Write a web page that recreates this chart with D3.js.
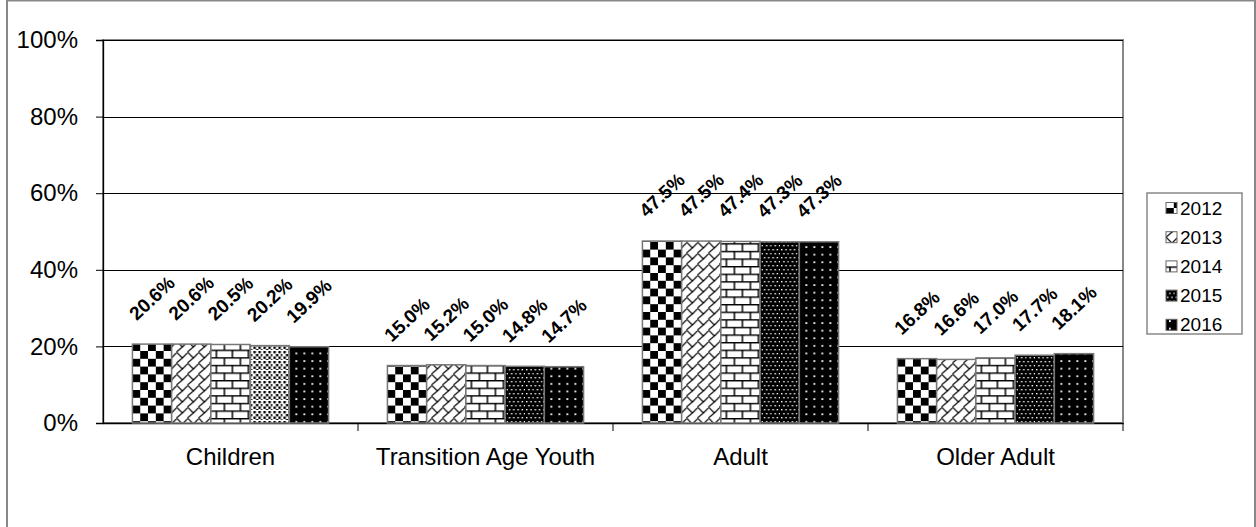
<!DOCTYPE html>
<html>
<head>
<meta charset="utf-8">
<script src="https://cdn.jsdelivr.net/npm/d3@7"></script>
<style>
  html, body { margin: 0; padding: 0; background: #fff; }
  svg { display: block; font-family: "Liberation Sans", Arial, sans-serif; }
</style>
</head>
<body>
<svg id="chart" width="1256" height="527"></svg>
<script>
// ---- data ----
const categories = ["Children", "Transition Age Youth", "Adult", "Older Adult"];
const years = ["2012", "2013", "2014", "2015", "2016"];
const v2012 = [20.6, 15.0, 47.5, 16.8];
const v2013 = [20.6, 15.2, 47.5, 16.6];
const v2014 = [20.5, 15.0, 47.4, 17.0];
const v2015 = [20.2, 14.8, 47.3, 17.7];
const v2016 = [19.9, 14.7, 47.3, 18.1];
const yTicks = [0, 20, 40, 60, 80, 100];

const seriesValues = [v2012, v2013, v2014, v2015, v2016];
const series = years.map((y, i) => ({ year: y, values: seriesValues[i] }));

const svg = d3.select("#chart");
const plot = { left: 103, right: 1123, top: 40, bottom: 423 };
const FONT = "Liberation Sans, Arial, sans-serif";

// ---- patterns ----
const defs = svg.append("defs");
function pat(id, w, h) {
  return defs.append("pattern").attr("id", id).attr("patternUnits", "userSpaceOnUse")
    .attr("width", w).attr("height", h);
}
// 2012 checkerboard
{
  const p = pat("p2012", 15.6, 15.6);
  p.append("rect").attr("width", 15.6).attr("height", 15.6).attr("fill", "#fff");
  p.append("rect").attr("x", 0).attr("y", 0).attr("width", 7.8).attr("height", 7.8).attr("fill", "#000");
  p.append("rect").attr("x", 7.8).attr("y", 7.8).attr("width", 7.8).attr("height", 7.8).attr("fill", "#000");
}
// 2013 zigzag / wave
{
  const p = pat("p2013", 11, 11);
  p.append("rect").attr("width", 11).attr("height", 11).attr("fill", "#fff");
  p.append("path").attr("d", "M0,0 L6,6 L0,11 M6,6 L11,1").attr("stroke", "#000").attr("stroke-width", 1.2).attr("fill", "none");
}
// 2014 bricks
{
  const p = pat("p2014", 16, 15.2);
  p.append("rect").attr("width", 16).attr("height", 15.2).attr("fill", "#fff");
  p.append("path").attr("d", "M0,0.7 H16 M0,8.3 H16 M4,0.7 V8.3 M12,8.3 V15.2")
    .attr("stroke", "#000").attr("stroke-width", 1.5).attr("fill", "none");
}
// 2015 dense white dots on black
{
  const p = pat("p2015", 8.6, 8);
  p.append("rect").attr("width", 8.6).attr("height", 8).attr("fill", "#000");
  [[1, 1], [5.3, 1], [3.15, 5], [7.45, 5]].forEach(([x, y]) =>
    p.append("rect").attr("x", x).attr("y", y).attr("width", 1.4).attr("height", 1.4).attr("fill", "#fff"));
}
// 2015 alternate (Children) black confetti on white
{
  const p = pat("p2015b", 10, 10);
  p.append("rect").attr("width", 10).attr("height", 10).attr("fill", "#fff");
  [[1, 1], [6, 1], [3.5, 4], [8.5, 4], [1, 6.5], [6, 6.5], [3.5, 9], [8.5, 9]].forEach(([x, y]) =>
    p.append("rect").attr("x", x).attr("y", y).attr("width", 2.4).attr("height", 2.4).attr("fill", "#000"));
}
// 2016 sparse white dots on black
{
  const p = pat("p2016", 8, 7.6);
  p.append("rect").attr("width", 8).attr("height", 7.6).attr("fill", "#000");
  p.append("rect").attr("x", 3).attr("y", 3).attr("width", 1.8).attr("height", 1.8).attr("fill", "#fff");
}
const patFor = (si, ci) => (si === 3 && ci === 0) ? "url(#p2015b)" : `url(#p${years[si]})`;

// ---- outer frame ----
svg.append("rect").attr("x", 7).attr("y", 0.5).attr("width", 1248).attr("height", 535)
  .attr("fill", "none").attr("stroke", "#888").attr("stroke-width", 2);

// ---- scales ----
const x0 = d3.scaleBand().domain(categories).range([plot.left, plot.right]).paddingInner(0).paddingOuter(0);
const barW = x0.bandwidth() / (5 + 1.5);
const x1 = d3.scaleBand().domain(years).range([0, barW * 5]);
const y = d3.scaleLinear().domain([0, 100]).range([plot.bottom, plot.top]);

// plot area border (gray)
svg.append("rect").attr("x", plot.left).attr("y", plot.top)
  .attr("width", plot.right - plot.left).attr("height", plot.bottom - plot.top)
  .attr("fill", "none").attr("stroke", "#888").attr("stroke-width", 2);

// gridlines
svg.append("g").selectAll("line").data(yTicks.filter(t => t > 0)).join("line")
  .attr("x1", plot.left).attr("x2", plot.right)
  .attr("y1", d => Math.round(y(d)) + 0.5).attr("y2", d => Math.round(y(d)) + 0.5)
  .attr("stroke", "#000").attr("stroke-width", 1);

// y axis
const yAxis = svg.append("g").attr("transform", `translate(${plot.left},0)`)
  .call(d3.axisLeft(y).tickValues(yTicks).tickSize(7).tickPadding(18).tickFormat(d => d + "%"));
yAxis.select(".domain").attr("stroke", "#000").attr("stroke-width", 1.3);
yAxis.selectAll(".tick line").attr("stroke", "#000");
yAxis.selectAll(".tick text").attr("font-size", 24).attr("fill", "#000").attr("font-family", FONT);

// x axis
const xAxis = svg.append("g").attr("transform", `translate(0,${plot.bottom})`)
  .call(d3.axisBottom(x0).tickSize(0).tickPadding(25));
xAxis.select(".domain").attr("stroke", "#000").attr("stroke-width", 1.3);
xAxis.selectAll(".tick text").attr("font-size", 24).attr("fill", "#000").attr("font-family", FONT);
// category separator ticks
const sepX = categories.slice(1).map(c => x0(c)).concat([plot.right]);
svg.append("g").selectAll("line").data(sepX).join("line")
  .attr("x1", d => d).attr("x2", d => d)
  .attr("y1", plot.bottom).attr("y2", plot.bottom + 8)
  .attr("stroke", "#000").attr("stroke-width", 1);

// bars
const groups = svg.append("g").selectAll("g").data(categories).join("g")
  .attr("transform", d => `translate(${x0(d) + barW * 0.75},0)`);
const cellData = (c, ci) => series.map((s, si) => ({ ci, si, year: s.year, v: s.values[ci] }));
groups.selectAll("rect").data(cellData).join("rect")
  .attr("x", d => x1(d.year)).attr("width", x1.bandwidth())
  .attr("y", d => y(d.v)).attr("height", d => y(0) - y(d.v))
  .attr("fill", d => patFor(d.si, d.ci))
  .attr("stroke", "#777").attr("stroke-width", 1.5);

// data labels
groups.selectAll("text.lbl").data(cellData).join("text").attr("class", "lbl")
  .attr("transform", d => `translate(${x1(d.year) + x1.bandwidth() / 2},${y(d.v) - 46}) rotate(-43)`)
  .attr("text-anchor", "middle").attr("dominant-baseline", "central")
  .attr("font-size", 19).attr("font-weight", "bold").attr("fill", "#000")
  .text(d => d.v.toFixed(1) + "%");

// legend
const lg = svg.append("g");
lg.append("rect").attr("x", 1147).attr("y", 193).attr("width", 95).attr("height", 141)
  .attr("fill", "#fff").attr("stroke", "#888").attr("stroke-width", 1.5);
const li = lg.selectAll("g.item").data(years).join("g").attr("class", "item")
  .attr("transform", (d, i) => `translate(1166,${208 + i * 29.2})`);
li.append("rect").attr("x", 0).attr("y", -5.5).attr("width", 11).attr("height", 11)
  .attr("fill", d => `url(#p${d})`).attr("stroke", "#666").attr("stroke-width", 1);
li.append("text").attr("x", 14).attr("y", 0).attr("dominant-baseline", "central")
  .attr("font-size", 19).attr("fill", "#000").text(d => d);
</script>
</body>
</html>
